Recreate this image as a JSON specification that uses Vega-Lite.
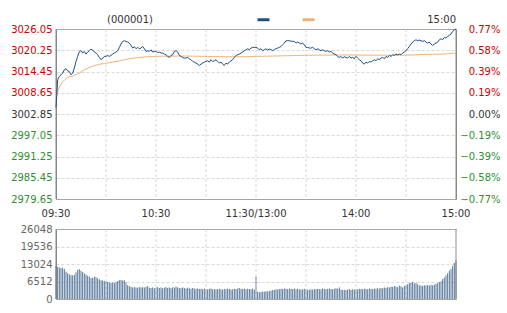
{
"$schema": "https://vega.github.io/schema/vega-lite/v6.json",
"width": 400, "height": 270,
"autosize": "none",
"padding": {"left": 56, "top": 29, "right": 51, "bottom": 14},
"background": "white",
"config": {"view": {"stroke": null}, "font": "DejaVu Sans", "axis": {"labelFont": "DejaVu Sans", "labelFontSize": 10, "labelOverlap": false}, "text": {"font": "DejaVu Sans", "fontSize": 10}},
"datasets": {
"vg": [{"g":0},{"g":30},{"g":60},{"g":90},{"g":120},{"g":150},{"g":180},{"g":210},{"g":240}],
"tl": [{"i":0,"t":"09:30"},{"i":60,"t":"10:30"},{"i":120,"t":"11:30/13:00"},{"i":180,"t":"14:00"},{"i":240,"t":"15:00"}],
"m": [
{"i":0,"p":3004.6,"a":3007.0,"v":12300},{"i":1,"p":3012.19,"a":3009.0,"v":12000},{"i":2,"p":3013.10,"a":3010.2,"v":11700},{"i":3,"p":3013.55,"a":3011.0,"v":11500},{"i":4,"p":3014.01,"a":3011.6,"v":11600},{"i":5,"p":3014.92,"a":3012.1,"v":11200},{"i":6,"p":3015.19,"a":3012.5,"v":10200},{"i":7,"p":3014.65,"a":3012.8,"v":9600},{"i":8,"p":3014.46,"a":3013.0,"v":9100},{"i":9,"p":3013.55,"a":3013.1,"v":8900},
{"i":10,"p":3014.01,"a":3013.2,"v":8800},{"i":11,"p":3015.38,"a":3013.4,"v":9000},{"i":12,"p":3017.20,"a":3013.6,"v":9900},{"i":13,"p":3018.57,"a":3013.8,"v":10800},{"i":14,"p":3019.93,"a":3014.0,"v":11100},{"i":15,"p":3020.12,"a":3014.3,"v":10500},{"i":16,"p":3019.48,"a":3014.6,"v":10000},{"i":17,"p":3019.93,"a":3014.9,"v":9500},{"i":18,"p":3019.20,"a":3015.1,"v":9100},{"i":19,"p":3019.75,"a":3015.35,"v":8700},
{"i":20,"p":3020.12,"a":3015.55,"v":8300},{"i":21,"p":3020.57,"a":3015.75,"v":7800},{"i":22,"p":3020.30,"a":3015.9,"v":7900},{"i":23,"p":3019.75,"a":3016.05,"v":8300},{"i":24,"p":3019.48,"a":3016.2,"v":8100},{"i":25,"p":3019.02,"a":3016.3,"v":7700},{"i":26,"p":3018.29,"a":3016.4,"v":7300},{"i":27,"p":3017.66,"a":3016.5,"v":7000},{"i":28,"p":3018.11,"a":3016.55,"v":6900},{"i":29,"p":3018.57,"a":3016.6,"v":6700},
{"i":30,"p":3018.57,"a":3016.7,"v":6600},{"i":31,"p":3018.84,"a":3016.78,"v":6300},{"i":32,"p":3018.57,"a":3016.86,"v":6200},{"i":33,"p":3018.84,"a":3016.94,"v":6000},{"i":34,"p":3019.20,"a":3017.02,"v":6100},{"i":35,"p":3019.48,"a":3017.1,"v":6000},{"i":36,"p":3019.75,"a":3017.18,"v":6300},{"i":37,"p":3020.12,"a":3017.26,"v":6700},{"i":38,"p":3021.03,"a":3017.36,"v":7000},{"i":39,"p":3021.94,"a":3017.46,"v":7100},
{"i":40,"p":3022.67,"a":3017.56,"v":6900},{"i":41,"p":3022.85,"a":3017.66,"v":7000},{"i":42,"p":3022.67,"a":3017.75,"v":6200},{"i":43,"p":3022.49,"a":3017.84,"v":5100},{"i":44,"p":3022.21,"a":3017.92,"v":4800},{"i":45,"p":3021.57,"a":3018.0,"v":4500},{"i":46,"p":3020.85,"a":3018.06,"v":4300},{"i":47,"p":3021.21,"a":3018.12,"v":4400},{"i":48,"p":3020.66,"a":3018.18,"v":4300},{"i":49,"p":3021.03,"a":3018.23,"v":4200},
{"i":50,"p":3020.66,"a":3018.28,"v":4400},{"i":51,"p":3020.85,"a":3018.32,"v":4300},{"i":52,"p":3021.30,"a":3018.36,"v":4400},{"i":53,"p":3020.66,"a":3018.4,"v":4300},{"i":54,"p":3019.93,"a":3018.43,"v":4500},{"i":55,"p":3020.12,"a":3018.46,"v":4800},{"i":56,"p":3019.93,"a":3018.49,"v":4200},{"i":57,"p":3020.39,"a":3018.52,"v":4100},{"i":58,"p":3019.75,"a":3018.54,"v":4300},{"i":59,"p":3019.93,"a":3018.56,"v":4000},
{"i":60,"p":3019.93,"a":3018.58,"v":4200},{"i":61,"p":3019.57,"a":3018.6,"v":4400},{"i":62,"p":3019.75,"a":3018.61,"v":4100},{"i":63,"p":3019.48,"a":3018.62,"v":4300},{"i":64,"p":3019.48,"a":3018.62,"v":4000},{"i":65,"p":3019.20,"a":3018.63,"v":4200},{"i":66,"p":3019.02,"a":3018.63,"v":4500},{"i":67,"p":3018.57,"a":3018.63,"v":4100},{"i":68,"p":3018.29,"a":3018.63,"v":4300},{"i":69,"p":3018.84,"a":3018.63,"v":4000},
{"i":70,"p":3019.02,"a":3018.64,"v":4400},{"i":71,"p":3019.93,"a":3018.65,"v":4200},{"i":72,"p":3020.12,"a":3018.66,"v":4600},{"i":73,"p":3019.75,"a":3018.67,"v":4300},{"i":74,"p":3018.84,"a":3018.67,"v":4100},{"i":75,"p":3018.57,"a":3018.67,"v":4000},{"i":76,"p":3018.29,"a":3018.67,"v":4300},{"i":77,"p":3018.11,"a":3018.66,"v":4100},{"i":78,"p":3018.11,"a":3018.66,"v":3900},{"i":79,"p":3018.29,"a":3018.66,"v":4200},
{"i":80,"p":3017.93,"a":3018.65,"v":4000},{"i":81,"p":3017.66,"a":3018.65,"v":3800},{"i":82,"p":3017.20,"a":3018.64,"v":4100},{"i":83,"p":3017.02,"a":3018.63,"v":3900},{"i":84,"p":3016.74,"a":3018.62,"v":3800},{"i":85,"p":3016.47,"a":3018.61,"v":3900},{"i":86,"p":3016.11,"a":3018.6,"v":3700},{"i":87,"p":3016.47,"a":3018.59,"v":3800},{"i":88,"p":3016.74,"a":3018.58,"v":3600},{"i":89,"p":3017.02,"a":3018.57,"v":3900},
{"i":90,"p":3017.20,"a":3018.56,"v":3700},{"i":91,"p":3017.38,"a":3018.55,"v":3600},{"i":92,"p":3017.02,"a":3018.55,"v":3800},{"i":93,"p":3017.66,"a":3018.54,"v":3900},{"i":94,"p":3017.20,"a":3018.54,"v":3600},{"i":95,"p":3017.38,"a":3018.53,"v":3700},{"i":96,"p":3017.66,"a":3018.53,"v":3500},{"i":97,"p":3017.20,"a":3018.52,"v":3700},{"i":98,"p":3016.74,"a":3018.52,"v":3800},{"i":99,"p":3017.02,"a":3018.51,"v":3600},
{"i":100,"p":3016.47,"a":3018.5,"v":3500},{"i":101,"p":3016.11,"a":3018.49,"v":3700},{"i":102,"p":3016.74,"a":3018.48,"v":3600},{"i":103,"p":3016.47,"a":3018.47,"v":3800},{"i":104,"p":3017.02,"a":3018.47,"v":3700},{"i":105,"p":3017.38,"a":3018.46,"v":3500},{"i":106,"p":3017.66,"a":3018.46,"v":3600},{"i":107,"p":3018.29,"a":3018.46,"v":3800},{"i":108,"p":3018.84,"a":3018.46,"v":3700},{"i":109,"p":3019.02,"a":3018.47,"v":3900},
{"i":110,"p":3019.20,"a":3018.47,"v":4100},{"i":111,"p":3019.48,"a":3018.48,"v":3800},{"i":112,"p":3019.75,"a":3018.48,"v":3700},{"i":113,"p":3020.12,"a":3018.49,"v":3900},{"i":114,"p":3020.39,"a":3018.5,"v":3600},{"i":115,"p":3020.66,"a":3018.51,"v":3800},{"i":116,"p":3020.39,"a":3018.52,"v":3700},{"i":117,"p":3020.85,"a":3018.53,"v":3600},{"i":118,"p":3021.03,"a":3018.54,"v":3900},{"i":119,"p":3021.03,"a":3018.55,"v":3500},
{"i":120,"p":3021.03,"a":3018.57,"v":8300},{"i":121,"p":3020.85,"a":3018.58,"v":2700},{"i":122,"p":3020.39,"a":3018.59,"v":2500},{"i":123,"p":3020.66,"a":3018.6,"v":2600},{"i":124,"p":3020.12,"a":3018.61,"v":2800},{"i":125,"p":3020.39,"a":3018.62,"v":2700},{"i":126,"p":3020.66,"a":3018.63,"v":2900},{"i":127,"p":3020.30,"a":3018.64,"v":2800},{"i":128,"p":3020.57,"a":3018.65,"v":3000},{"i":129,"p":3020.39,"a":3018.66,"v":3100},
{"i":130,"p":3020.12,"a":3018.67,"v":3300},{"i":131,"p":3020.39,"a":3018.68,"v":3400},{"i":132,"p":3020.66,"a":3018.69,"v":3600},{"i":133,"p":3020.85,"a":3018.7,"v":3500},{"i":134,"p":3021.03,"a":3018.71,"v":3700},{"i":135,"p":3021.30,"a":3018.72,"v":3800},{"i":136,"p":3021.76,"a":3018.73,"v":3700},{"i":137,"p":3022.21,"a":3018.74,"v":3900},{"i":138,"p":3022.85,"a":3018.75,"v":3800},{"i":139,"p":3022.85,"a":3018.76,"v":3700},
{"i":140,"p":3022.85,"a":3018.77,"v":3900},{"i":141,"p":3022.76,"a":3018.78,"v":3800},{"i":142,"p":3022.67,"a":3018.79,"v":3700},{"i":143,"p":3022.67,"a":3018.8,"v":3900},{"i":144,"p":3022.21,"a":3018.81,"v":3600},{"i":145,"p":3022.49,"a":3018.82,"v":3800},{"i":146,"p":3022.21,"a":3018.83,"v":3700},{"i":147,"p":3021.94,"a":3018.84,"v":3500},{"i":148,"p":3022.21,"a":3018.85,"v":3600},{"i":149,"p":3021.76,"a":3018.86,"v":3800},
{"i":150,"p":3021.03,"a":3018.86,"v":3600},{"i":151,"p":3021.03,"a":3018.87,"v":3500},{"i":152,"p":3020.85,"a":3018.87,"v":3400},{"i":153,"p":3020.85,"a":3018.88,"v":3600},{"i":154,"p":3021.03,"a":3018.88,"v":3500},{"i":155,"p":3020.66,"a":3018.89,"v":3700},{"i":156,"p":3020.39,"a":3018.89,"v":3600},{"i":157,"p":3020.66,"a":3018.9,"v":3800},{"i":158,"p":3020.39,"a":3018.9,"v":3700},{"i":159,"p":3020.12,"a":3018.91,"v":3600},
{"i":160,"p":3020.39,"a":3018.91,"v":3900},{"i":161,"p":3020.12,"a":3018.92,"v":3700},{"i":162,"p":3019.93,"a":3018.92,"v":3600},{"i":163,"p":3020.12,"a":3018.93,"v":3800},{"i":164,"p":3019.75,"a":3018.93,"v":3900},{"i":165,"p":3019.93,"a":3018.94,"v":3700},{"i":166,"p":3019.48,"a":3018.94,"v":3600},{"i":167,"p":3019.20,"a":3018.95,"v":3800},{"i":168,"p":3019.02,"a":3018.95,"v":4000},{"i":169,"p":3018.57,"a":3018.95,"v":3800},
{"i":170,"p":3018.29,"a":3018.95,"v":4300},{"i":171,"p":3018.57,"a":3018.95,"v":3500},{"i":172,"p":3018.11,"a":3018.95,"v":3300},{"i":173,"p":3018.48,"a":3018.95,"v":3400},{"i":174,"p":3018.29,"a":3018.95,"v":3300},{"i":175,"p":3018.11,"a":3018.95,"v":3500},{"i":176,"p":3018.57,"a":3018.95,"v":3700},{"i":177,"p":3018.11,"a":3018.95,"v":3400},{"i":178,"p":3018.29,"a":3018.95,"v":3600},{"i":179,"p":3017.93,"a":3018.94,"v":3500},
{"i":180,"p":3018.57,"a":3018.94,"v":3700},{"i":181,"p":3018.11,"a":3018.94,"v":3600},{"i":182,"p":3017.66,"a":3018.94,"v":3800},{"i":183,"p":3017.38,"a":3018.93,"v":3700},{"i":184,"p":3016.74,"a":3018.93,"v":3600},{"i":185,"p":3016.47,"a":3018.92,"v":3800},{"i":186,"p":3017.02,"a":3018.92,"v":3700},{"i":187,"p":3016.74,"a":3018.91,"v":3600},{"i":188,"p":3017.20,"a":3018.91,"v":3900},{"i":189,"p":3017.02,"a":3018.9,"v":3800},
{"i":190,"p":3017.38,"a":3018.9,"v":3700},{"i":191,"p":3017.66,"a":3018.9,"v":3900},{"i":192,"p":3017.38,"a":3018.9,"v":3800},{"i":193,"p":3017.93,"a":3018.9,"v":4000},{"i":194,"p":3017.66,"a":3018.9,"v":3900},{"i":195,"p":3018.11,"a":3018.9,"v":4100},{"i":196,"p":3018.29,"a":3018.9,"v":4000},{"i":197,"p":3017.93,"a":3018.9,"v":4300},{"i":198,"p":3018.57,"a":3018.9,"v":4100},{"i":199,"p":3018.29,"a":3018.9,"v":4400},
{"i":200,"p":3018.84,"a":3018.9,"v":4300},{"i":201,"p":3018.57,"a":3018.9,"v":4600},{"i":202,"p":3019.02,"a":3018.9,"v":4500},{"i":203,"p":3018.84,"a":3018.9,"v":4800},{"i":204,"p":3019.20,"a":3018.9,"v":4600},{"i":205,"p":3019.02,"a":3018.9,"v":4400},{"i":206,"p":3019.20,"a":3018.91,"v":5000},{"i":207,"p":3019.02,"a":3018.91,"v":4700},{"i":208,"p":3019.48,"a":3018.91,"v":4300},{"i":209,"p":3019.75,"a":3018.92,"v":4900},
{"i":210,"p":3020.12,"a":3018.92,"v":5200},{"i":211,"p":3020.66,"a":3018.93,"v":5500},{"i":212,"p":3021.30,"a":3018.94,"v":5900},{"i":213,"p":3021.94,"a":3018.95,"v":6100},{"i":214,"p":3022.49,"a":3018.97,"v":6300},{"i":215,"p":3022.85,"a":3018.99,"v":5800},{"i":216,"p":3023.12,"a":3019.01,"v":6000},{"i":217,"p":3022.85,"a":3019.03,"v":5500},{"i":218,"p":3023.03,"a":3019.05,"v":5100},{"i":219,"p":3022.85,"a":3019.07,"v":5000},
{"i":220,"p":3022.67,"a":3019.08,"v":4900},{"i":221,"p":3022.85,"a":3019.1,"v":5100},{"i":222,"p":3022.49,"a":3019.11,"v":5000},{"i":223,"p":3022.21,"a":3019.12,"v":5200},{"i":224,"p":3022.49,"a":3019.13,"v":5000},{"i":225,"p":3021.94,"a":3019.14,"v":5300},{"i":226,"p":3021.57,"a":3019.15,"v":5100},{"i":227,"p":3021.94,"a":3019.16,"v":5400},{"i":228,"p":3022.21,"a":3019.17,"v":5600},{"i":229,"p":3022.49,"a":3019.18,"v":5900},
{"i":230,"p":3023.12,"a":3019.2,"v":6300},{"i":231,"p":3023.40,"a":3019.21,"v":6600},{"i":232,"p":3023.12,"a":3019.23,"v":7400},{"i":233,"p":3023.76,"a":3019.25,"v":8000},{"i":234,"p":3023.58,"a":3019.27,"v":8800},{"i":235,"p":3024.04,"a":3019.3,"v":9600},{"i":236,"p":3024.31,"a":3019.33,"v":10500},{"i":237,"p":3024.67,"a":3019.36,"v":11200},{"i":238,"p":3025.40,"a":3019.4,"v":12300},{"i":239,"p":3025.80,"a":3019.45,"v":13400},
{"i":240,"p":3026.05,"a":3019.5,"v":14300}
]
},
"layer": [
{
"data": {"name": "m"},
"mark": {"type": "rule", "strokeWidth": 1, "color": "#56779a"},
"encoding": {
"x": {"field": "i", "type": "quantitative", "scale": {"domain": [0, 240], "nice": false, "zero": false}, "axis": null},
"y": {"field": "v", "type": "quantitative", "scale": {"domain": [0, 26048], "range": [270, 200], "nice": false, "zero": true},
 "axis": {"orient": "left", "values": [0, 6512, 13024, 19536, 26048], "format": "d", "title": null, "ticks": false, "labelPadding": 4, "domainColor": "#888", "labelColor": "#666", "grid": true,
  "gridColor": {"condition": {"test": "datum.value == 0 || datum.value == 26048", "value": "#888"}, "value": "#d8d8d8"},
  "gridDash": {"condition": {"test": "datum.value == 0 || datum.value == 26048", "value": [1, 0]}, "value": [3, 2]}}},
"y2": {"datum": 0}
}
},
{
"data": {"name": "vg"},
"mark": {"type": "rule", "strokeWidth": 1},
"encoding": {
"x": {"field": "g", "type": "quantitative", "scale": {"domain": [0, 240], "nice": false, "zero": false}, "axis": null},
"y": {"datum": 26048, "type": "quantitative", "scale": {"domain": [0, 26048], "range": [270, 200], "nice": false, "zero": true}, "axis": null},
"y2": {"datum": 0},
"color": {"condition": {"test": "datum.g == 0 || datum.g == 240", "value": "#888"}, "value": "#d8d8d8"},
"strokeDash": {"condition": {"test": "datum.g == 0 || datum.g == 240", "value": [1, 0]}, "value": [3, 2]}
}
},
{
"data": {"name": "vg"},
"mark": {"type": "rule", "strokeWidth": 1},
"encoding": {
"x": {"field": "g", "type": "quantitative", "scale": {"domain": [0, 240], "nice": false, "zero": false}, "axis": null},
"y": {"datum": 3026.05, "type": "quantitative", "scale": {"domain": [2979.65, 3026.05], "range": [170, 0], "nice": false, "zero": false}, "axis": null},
"y2": {"datum": 2979.65},
"color": {"condition": {"test": "datum.g == 0 || datum.g == 240", "value": "#888"}, "value": "#d8d8d8"},
"strokeDash": {"condition": {"test": "datum.g == 0 || datum.g == 240", "value": [1, 0]}, "value": [3, 2]}
}
},
{
"data": {"name": "m"},
"mark": {"type": "line", "strokeWidth": 1},
"encoding": {
"x": {"field": "i", "type": "quantitative", "scale": {"domain": [0, 240], "nice": false, "zero": false}, "axis": null},
"y": {"field": "a", "type": "quantitative", "scale": {"domain": [2979.65, 3026.05], "range": [170, 0], "nice": false, "zero": false},
 "axis": {"orient": "right", "values": [2979.65, 2985.45, 2991.25, 2997.05, 3002.85, 3008.65, 3014.45, 3020.25, 3026.05], "title": null, "ticks": false, "grid": false, "domainColor": "#888", "labelAlign": "right", "labelPadding": 44,
  "labelExpr": "format((datum.value - 3002.85) / 3002.85 * 100, '.2f') + '%'",
  "labelColor": {"condition": [{"test": "datum.value > 3003", "value": "#cc0000"}, {"test": "datum.value < 3002", "value": "#2f8f2f"}], "value": "#333"}}},
"color": {"datum": "avg", "type": "nominal", "scale": {"domain": ["price", "avg"], "range": ["#1f5080", "#f0b070"]},
 "legend": {"orient": "none", "legendX": 200, "legendY": -17, "direction": "horizontal", "title": null, "labelExpr": "''", "symbolType": "stroke", "symbolSize": 144, "symbolStrokeWidth": 3, "columnPadding": 20, "labelOffset": 0, "padding": 0}}
}
},
{
"data": {"name": "m"},
"mark": {"type": "line", "strokeWidth": 1},
"encoding": {
"x": {"field": "i", "type": "quantitative", "scale": {"domain": [0, 240], "nice": false, "zero": false}, "axis": null},
"y": {"field": "p", "type": "quantitative", "scale": {"domain": [2979.65, 3026.05], "range": [170, 0], "nice": false, "zero": false},
 "axis": {"orient": "left", "values": [2979.65, 2985.45, 2991.25, 2997.05, 3002.85, 3008.65, 3014.45, 3020.25, 3026.05], "format": ".2f", "title": null, "ticks": false, "labelPadding": 4, "domainColor": "#888", "grid": true,
  "labelColor": {"condition": [{"test": "datum.value > 3003", "value": "#cc0000"}, {"test": "datum.value < 3002", "value": "#2f8f2f"}], "value": "#333"},
  "gridColor": {"condition": {"test": "datum.value > 3026 || datum.value < 2980", "value": "#888"}, "value": "#d8d8d8"},
  "gridDash": {"condition": {"test": "datum.value > 3026 || datum.value < 2980", "value": [1, 0]}, "value": [3, 2]}}},
"color": {"datum": "price", "type": "nominal"}
}
},
{
"data": {"name": "tl"},
"mark": {"type": "text", "align": "center", "baseline": "middle", "dy": 15, "color": "#333", "fontSize": 10},
"encoding": {
"x": {"field": "i", "type": "quantitative", "scale": {"domain": [0, 240], "nice": false, "zero": false}, "axis": null},
"y": {"datum": 2979.65, "type": "quantitative", "scale": {"domain": [2979.65, 3026.05], "range": [170, 0], "nice": false, "zero": false}, "axis": null},
"text": {"field": "t"}
}
},
{
"data": {"values": [{"i": 240, "t": "15:00"}]},
"mark": {"type": "text", "align": "right", "baseline": "middle", "dy": -9, "color": "#333", "fontSize": 10},
"encoding": {
"x": {"field": "i", "type": "quantitative", "scale": {"domain": [0, 240], "nice": false, "zero": false}, "axis": null},
"y": {"datum": 3026.05, "type": "quantitative", "scale": {"domain": [2979.65, 3026.05], "range": [170, 0], "nice": false, "zero": false}, "axis": null},
"text": {"field": "t"}
}
},
{
"data": {"values": [{"i": 30, "t": "(000001)"}]},
"mark": {"type": "text", "align": "left", "baseline": "middle", "dy": -9, "dx": 1, "color": "#333", "fontSize": 10},
"encoding": {
"x": {"field": "i", "type": "quantitative", "scale": {"domain": [0, 240], "nice": false, "zero": false}, "axis": null},
"y": {"datum": 3026.05, "type": "quantitative", "scale": {"domain": [2979.65, 3026.05], "range": [170, 0], "nice": false, "zero": false}, "axis": null},
"text": {"field": "t"}
}
}
],
"resolve": {"scale": {"y": "independent"}, "axis": {"y": "independent"}}
}
